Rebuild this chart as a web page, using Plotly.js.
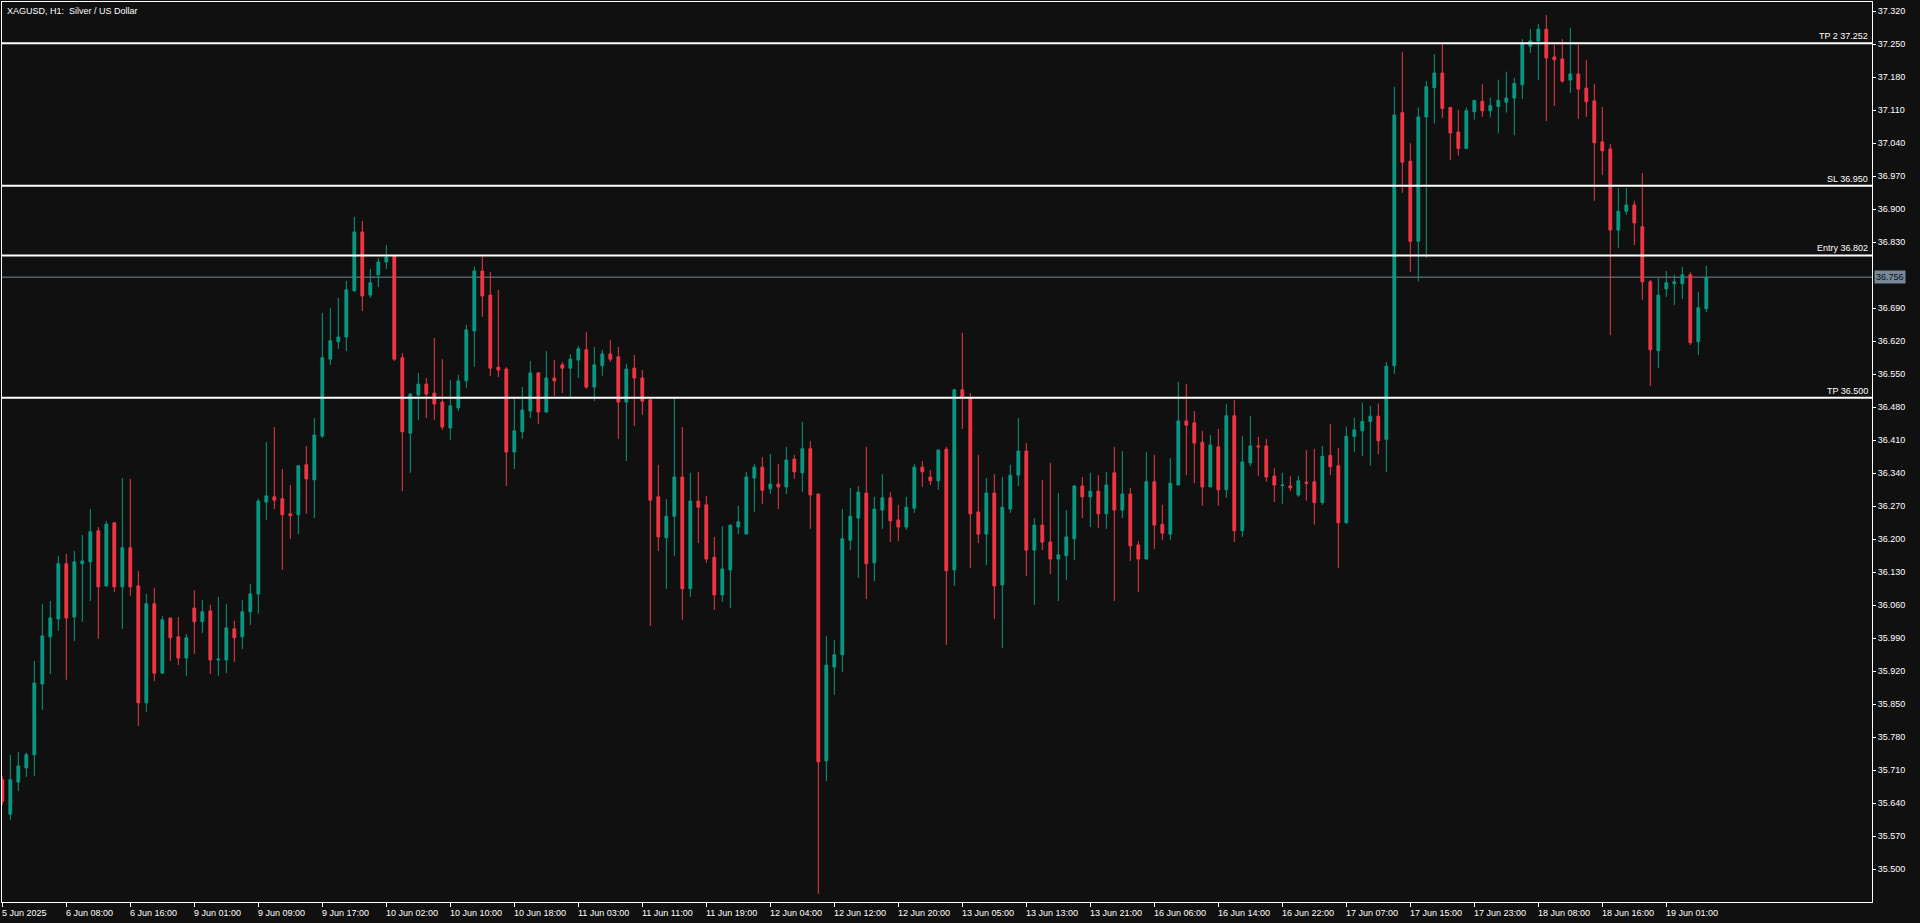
<!DOCTYPE html>
<html>
<head>
<meta charset="utf-8">
<script src="https://cdn.plot.ly/plotly-3.0.1.min.js"></script>
<style>
  html, body { margin: 0; padding: 0; background: #101010; }
  #chart { width: 1920px; height: 923px; }
</style>
</head>
<body>
<div id="chart"></div>
<script>
// ---- DATA (XAGUSD H1) ----
const openP = [35.690,35.617,35.685,35.715,35.743,35.893,35.993,36.031,36.148,36.035,36.148,36.152,36.218,36.101,36.235,36.099,36.182,36.101,35.853,36.063,
35.916,36.033,35.993,35.948,36.054,36.025,36.048,35.944,35.944,36.010,35.993,36.046,36.084,36.279,36.290,36.286,36.254,36.252,36.358,36.326,
36.419,36.582,36.619,36.629,36.727,36.852,36.718,36.761,36.788,36.801,36.585,36.425,36.506,36.529,36.510,36.491,36.436,36.479,36.536,36.642,
36.769,36.718,36.565,36.561,36.385,36.428,36.472,36.553,36.470,36.542,36.570,36.563,36.580,36.602,36.523,36.568,36.593,36.587,36.491,36.563,
36.542,36.496,36.290,36.203,36.249,36.332,36.095,36.281,36.273,36.162,36.082,36.135,36.226,36.211,36.330,36.353,36.307,36.317,36.311,36.370,
36.341,36.392,36.296,35.730,35.929,35.955,36.198,36.245,36.298,36.150,36.262,36.288,36.241,36.226,36.266,36.353,36.332,36.324,36.391,36.135,
36.517,36.500,36.258,36.211,36.298,36.103,36.264,36.336,36.387,36.177,36.230,36.194,36.158,36.165,36.201,36.313,36.290,36.302,36.254,36.341,
36.262,36.296,36.188,36.158,36.322,36.232,36.211,36.315,36.451,36.447,36.406,36.311,36.396,36.305,36.462,36.218,36.362,36.398,36.398,36.334,
36.314,36.313,36.294,36.321,36.322,36.278,36.378,36.356,36.235,36.418,36.430,36.450,36.461,36.412,36.568,37.105,37.002,36.832,37.096,37.158,
37.189,37.116,37.064,37.029,37.107,37.129,37.109,37.118,37.127,37.136,37.164,37.246,37.257,37.282,37.223,37.219,37.174,37.187,37.157,37.130,
37.043,37.028,36.856,36.896,36.909,36.863,36.746,36.600,36.731,36.742,36.742,36.761,36.619,36.689];

const highP = [35.697,35.743,35.749,35.747,35.942,36.063,36.069,36.165,36.169,36.175,36.209,36.264,36.226,36.239,36.235,36.330,36.328,36.133,36.084,36.097,
36.037,36.033,36.035,35.999,36.092,36.071,36.061,36.078,36.063,36.027,36.071,36.105,36.286,36.406,36.438,36.349,36.315,36.356,36.398,36.457,
36.680,36.691,36.712,36.748,36.884,36.875,36.773,36.797,36.824,36.803,36.595,36.510,36.553,36.542,36.627,36.582,36.538,36.549,36.655,36.778,
36.800,36.767,36.729,36.565,36.498,36.523,36.578,36.553,36.599,36.580,36.576,36.593,36.610,36.640,36.608,36.602,36.623,36.608,36.572,36.591,
36.559,36.496,36.358,36.285,36.500,36.438,36.341,36.343,36.292,36.205,36.228,36.230,36.271,36.343,36.360,36.374,36.381,36.360,36.396,36.379,
36.449,36.408,36.296,35.995,35.986,36.264,36.309,36.313,36.396,36.290,36.338,36.300,36.273,36.290,36.360,36.366,36.347,36.391,36.396,36.519,
36.638,36.510,36.379,36.330,36.338,36.332,36.358,36.457,36.404,36.245,36.326,36.362,36.298,36.262,36.315,36.332,36.341,36.336,36.343,36.396,
36.387,36.309,36.196,36.385,36.379,36.273,36.372,36.534,36.529,36.472,36.430,36.421,36.434,36.487,36.495,36.419,36.462,36.417,36.413,36.351,
36.341,36.334,36.334,36.389,36.392,36.398,36.445,36.394,36.439,36.458,36.490,36.483,36.488,36.576,37.160,37.234,37.040,37.116,37.172,37.229,
37.250,37.116,37.111,37.116,37.131,37.165,37.137,37.175,37.192,37.179,37.261,37.282,37.293,37.312,37.249,37.261,37.285,37.249,37.217,37.166,
37.117,37.039,36.945,36.945,36.918,36.977,36.750,36.754,36.769,36.761,36.778,36.767,36.725,36.780];

const lowP = [35.636,35.605,35.666,35.696,35.698,35.838,35.914,36.006,35.902,35.984,36.025,36.069,35.989,36.100,36.088,36.010,36.080,35.804,35.834,35.899,
35.916,35.942,35.933,35.910,35.957,36.001,35.914,35.910,35.916,35.940,35.967,36.018,36.042,36.241,36.264,36.135,36.201,36.211,36.254,36.245,
36.415,36.570,36.604,36.599,36.725,36.684,36.712,36.735,36.773,36.578,36.302,36.341,36.453,36.457,36.453,36.432,36.411,36.472,36.521,36.566,
36.672,36.546,36.544,36.313,36.349,36.413,36.457,36.445,36.468,36.504,36.510,36.502,36.542,36.519,36.493,36.547,36.576,36.413,36.366,36.440,
36.464,36.016,36.175,36.095,36.165,36.029,36.078,36.192,36.150,36.050,36.067,36.054,36.211,36.211,36.258,36.275,36.296,36.264,36.296,36.328,
36.300,36.222,35.448,35.687,35.870,35.918,36.177,36.118,36.073,36.111,36.222,36.194,36.196,36.220,36.256,36.311,36.315,36.305,35.976,36.101,
36.434,36.139,36.192,36.145,36.031,35.969,36.256,36.313,36.122,36.061,36.177,36.126,36.069,36.114,36.156,36.245,36.226,36.224,36.222,36.069,
36.245,36.154,36.088,36.158,36.179,36.198,36.198,36.315,36.336,36.319,36.271,36.311,36.271,36.288,36.194,36.205,36.355,36.334,36.322,36.279,
36.275,36.302,36.290,36.282,36.231,36.273,36.336,36.139,36.233,36.385,36.376,36.356,36.380,36.342,36.551,36.935,36.767,36.747,36.797,37.082,
37.094,37.004,37.014,37.029,37.090,37.096,37.095,37.061,37.105,37.057,37.134,37.232,37.174,37.087,37.119,37.168,37.147,37.092,37.096,36.918,
36.973,36.633,36.818,36.888,36.824,36.708,36.525,36.563,36.714,36.697,36.710,36.612,36.591,36.682];

const closeP = [35.644,35.690,35.719,35.743,35.895,35.995,36.033,36.148,36.033,36.152,36.154,36.216,36.099,36.232,36.099,36.182,36.099,35.853,36.063,35.916,
36.029,35.991,35.948,35.991,36.025,36.046,35.944,35.946,36.012,35.991,36.046,36.084,36.281,36.292,36.283,36.252,36.250,36.356,36.328,36.421,
36.585,36.621,36.629,36.729,36.852,36.716,36.744,36.788,36.799,36.582,36.428,36.508,36.529,36.508,36.487,36.438,36.483,36.536,36.644,36.769,
36.716,36.563,36.559,36.385,36.430,36.474,36.553,36.470,36.542,36.536,36.563,36.582,36.604,36.523,36.570,36.593,36.582,36.491,36.561,36.542,
36.493,36.283,36.205,36.249,36.332,36.095,36.281,36.268,36.158,36.082,36.137,36.230,36.237,36.332,36.353,36.304,36.317,36.311,36.368,36.343,
36.392,36.294,35.728,35.933,35.955,36.201,36.249,36.300,36.148,36.264,36.288,36.239,36.226,36.268,36.353,36.343,36.324,36.389,36.133,36.517,
36.500,36.254,36.211,36.298,36.101,36.268,36.336,36.387,36.177,36.230,36.194,36.158,36.167,36.205,36.313,36.290,36.302,36.254,36.315,36.262,
36.296,36.186,36.158,36.322,36.230,36.213,36.319,36.451,36.442,36.404,36.311,36.400,36.305,36.462,36.218,36.364,36.398,36.396,36.332,36.315,
36.315,36.309,36.324,36.319,36.278,36.376,36.354,36.235,36.418,36.432,36.450,36.461,36.409,36.567,37.100,37.000,36.832,37.096,37.160,37.189,
37.114,37.062,37.029,37.109,37.131,37.109,37.120,37.131,37.136,37.167,37.251,37.257,37.282,37.221,37.217,37.172,37.187,37.155,37.128,37.041,
37.024,36.856,36.896,36.909,36.871,36.746,36.602,36.718,36.744,36.746,36.761,36.617,36.691,36.756];

// x-axis labels (one every 8 bars)
const timeLabels = ["5 Jun 2025","6 Jun 08:00","6 Jun 16:00","9 Jun 01:00","9 Jun 09:00","9 Jun 17:00",
"10 Jun 02:00","10 Jun 10:00","10 Jun 18:00","11 Jun 03:00","11 Jun 11:00","11 Jun 19:00",
"12 Jun 04:00","12 Jun 12:00","12 Jun 20:00","13 Jun 05:00","13 Jun 13:00","13 Jun 21:00",
"16 Jun 06:00","16 Jun 14:00","16 Jun 22:00","17 Jun 07:00","17 Jun 15:00","17 Jun 23:00",
"18 Jun 08:00","18 Jun 16:00","19 Jun 01:00"];
const labelStep = 8;

// y-axis ticks
const priceTicks = [35.500,35.570,35.640,35.710,35.780,35.850,35.920,35.990,36.060,36.130,36.200,36.270,
36.340,36.410,36.480,36.550,36.620,36.690,36.830,36.900,36.970,37.040,37.110,37.180,37.250,37.320];

// trade levels
const levelNames = ["TP 2","SL","Entry","TP"];
const levelPrices = [37.252,36.950,36.802,36.500];
const lastPrice = 36.756;

const chartTitle = "XAGUSD, H1:\u00a0 Silver / US Dollar";

// ---- BUILD ----
const xIdx = openP.map((_, i) => i);
const GREEN = "#089981", RED = "#f23645", BG = "#101010";

const trace = {
  type: "candlestick",
  x: xIdx, open: openP, high: highP, low: lowP, close: closeP,
  increasing: { line: { color: GREEN, width: 1 }, fillcolor: GREEN },
  decreasing: { line: { color: RED, width: 1 }, fillcolor: RED },
  whiskerwidth: 0,
  hoverinfo: "skip",
  showlegend: false
};

const tickIdx = timeLabels.map((_, k) => k * labelStep);

const shapes = [];
const annotations = [];

levelPrices.forEach((p, k) => {
  shapes.push({ type: "line", xref: "paper", x0: 0, x1: 1, yref: "y", y0: p, y1: p,
    line: { color: "#ffffff", width: 2 }, layer: "above" });
  annotations.push({ xref: "paper", x: 1, xanchor: "right", xshift: -2,
    yref: "y", y: p, yanchor: "bottom", yshift: 0,
    text: levelNames[k] + " " + p.toFixed(3), showarrow: false,
    font: { family: "Liberation Sans, Arial, sans-serif", size: 9, color: "#ffffff" } });
});

shapes.push({ type: "line", xref: "paper", x0: 0, x1: 1, yref: "y", y0: lastPrice, y1: lastPrice,
  line: { color: "#778899", width: 1 }, layer: "below" });
annotations.push({ xref: "paper", x: 1, xanchor: "left", xshift: 2, yref: "y", y: lastPrice,
  yanchor: "middle", text: lastPrice.toFixed(3), showarrow: false, bgcolor: "#778899",
  borderpad: 1, font: { family: "Liberation Sans, Arial, sans-serif", size: 9, color: "#101010" } });

tickIdx.forEach((xi, k) => {
  annotations.push({ xref: "x", x: xi, xanchor: "left", xshift: -2, yref: "paper", y: 0,
    yanchor: "top", yshift: -4, text: timeLabels[k], showarrow: false,
    font: { family: "Liberation Sans, Arial, sans-serif", size: 9, color: "#ffffff" } });
});

annotations.push({ xref: "paper", x: 0, xanchor: "left", xshift: 3, yref: "paper", y: 1,
  yanchor: "top", yshift: -2, text: chartTitle, showarrow: false,
  font: { family: "Liberation Sans, Arial, sans-serif", size: 9, color: "#ffffff" } });

const layout = {
  width: 1920, height: 923,
  margin: { l: 2, r: 48, t: 2, b: 21, pad: 0 },
  paper_bgcolor: BG, plot_bgcolor: BG,
  boxgap: 0.5,
  showlegend: false,
  xaxis: {
    range: [-0.04, 233.71], fixedrange: true,
    showgrid: false, zeroline: false,
    showline: true, linecolor: "#ffffff", linewidth: 1, mirror: true,
    ticks: "outside", ticklen: 4, tickcolor: "#ffffff", tickwidth: 1,
    tickmode: "array", tickvals: tickIdx, showticklabels: false,
    rangeslider: { visible: false }
  },
  yaxis: {
    side: "right", range: [35.4305, 37.3397], fixedrange: true,
    showgrid: false, zeroline: false,
    showline: true, linecolor: "#ffffff", linewidth: 1, mirror: true,
    ticks: "outside", ticklen: 3, tickcolor: "#ffffff", tickwidth: 1,
    tickmode: "array", tickvals: priceTicks, tickformat: ".3f",
    tickfont: { family: "Liberation Sans, Arial, sans-serif", size: 9, color: "#ffffff" }
  },
  shapes: shapes,
  annotations: annotations
};

Plotly.newPlot("chart", [trace], layout, { displayModeBar: false, staticPlot: true });
</script>
</body>
</html>
